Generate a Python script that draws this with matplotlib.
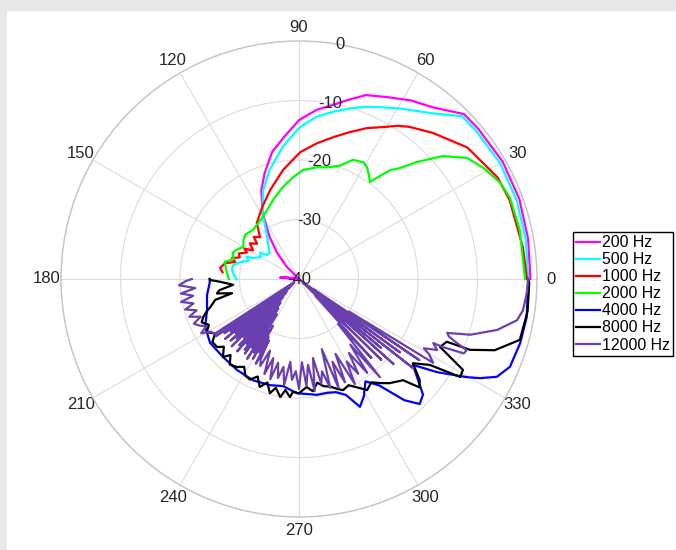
import numpy as np
import matplotlib
matplotlib.use("Agg")
import matplotlib.pyplot as plt
from matplotlib.patches import Rectangle

plt.rcParams['font.family'] = ['Liberation Sans', 'DejaVu Sans']

labels = ['200 Hz', '500 Hz', '1000 Hz', '2000 Hz', '4000 Hz', '8000 Hz', '12000 Hz']
colors = ['#ff00ff', '#00ffff', '#ff0000', '#00ff00', '#0000ff', '#000000', '#6a40b0']

r_ticks = [-40, -30, -20, -10, 0]
theta_ticks = list(range(0, 360, 30))

# 200 Hz
ang_200 = [0, 10, 20, 30, 40, 45, 52, 58, 64, 70, 75, 79, 84, 90, 96, 102, 108, 113, 119, 125, 130, 135, 140, 150, 165, 172, 176, 180]
db_200 = [-1.1, -0.9, -0.6, -0.5, -0.7, -0.8, -3.4, -4.6, -6.0, -7.1, -8.9, -10.2, -11.4, -13.3, -16.0, -18.2, -21.3, -23.8, -27.4, -31.4, -34.3, -37.1, -40, -40, -40, -37.5, -36.8, -40]

# 500 Hz
ang_500 = [0, 10, 20, 30, 40, 45, 51, 59, 64, 69, 73, 78, 84, 90, 97, 105, 112, 119, 123, 127, 133, 138.5, 143, 146, 150, 155.5, 157, 160, 164, 168, 172, 178, 180]
db_500 = [-1.5, -1.3, -1.1, -1.0, -1.2, -1.3, -4.2, -6.6, -7.9, -9.0, -10.0, -11.2, -12.6, -14.6, -17.6, -21.0, -23.9, -27.3, -29.6, -31.1, -32.5, -33.4, -33.3, -32.1, -32.6, -31.5, -30.4, -31.0, -29.7, -28.7, -28.6, -29.2, -29.5]

# 1000 Hz
ang_1000 = [0, 8, 20.5, 27, 38, 47.5, 54, 57, 61, 65.8, 71, 76.5, 82.5, 89.5, 98.4, 108, 117, 124.8, 127, 133, 137, 140, 144, 148, 151, 153, 157, 160, 162.6, 165, 168, 172, 175]
db_1000 = [-1.7, -2.0, -2.2, -2.5, -4.1, -6.7, -8.4, -9.3, -10.8, -12.2, -13.9, -15.5, -17.0, -18.7, -21.5, -24.3, -26.4, -27.9, -28.2, -30.4, -29.6, -30.8, -29.8, -30.9, -29.5, -30.2, -29.0, -29.4, -28.2, -28.9, -27.3, -26.6, -27.1]

# 2000 Hz
ang_2000 = [0, 12.5, 21, 25.5, 31, 35.8, 40.5, 44.8, 47.7, 50, 53.2, 53.8, 56, 58.7, 61, 65.6, 70, 74.5, 81, 88, 93, 100, 108, 120, 133, 140, 145, 150, 155, 158.5, 163, 167, 172, 177, 180]
db_2000 = [-2.0, -2.0, -2.0, -2.5, -3.8, -5.2, -8.2, -12.1, -14.8, -16.1, -19.2, -19.8, -19.0, -18.0, -17.6, -18.0, -19.7, -20.5, -21.0, -21.7, -22.8, -24.3, -26.0, -27.9, -28.7, -28.3, -28.6, -29.2, -28.4, -28.0, -28.5, -27.2, -27.6, -28.0, -28.2]

# 4000 Hz
ang_4000 = [180, 182, 190, 198.6, 207, 215.7, 225.7, 235.7, 245.5, 254.7, 261.5, 269, 278.8, 284, 288, 292, 295.5, 299, 303, 307, 311, 314, 317, 320, 323, 326, 329.7, 331.3, 333.7, 337.4, 343.8, 350.5, 359, 360]
db_4000 = [-25, -25, -24.3, -23.7, -22.3, -21.6, -21.7, -21.5, -21.3, -21.5, -21.8, -20.8, -20.3, -20.3, -20.0, -19.0, -16.2, -17.5, -19.5, -17.6, -13.0, -10.8, -11.5, -14.0, -16.0, -12.0, -7.3, -5.3, -2.9, -1.6, -1.3, -1.2, -1.5, -1.5]

# 8000 Hz
ang_8000 = [180, 180.6, 182, 185, 188, 190, 192, 194, 197.5, 199.5, 201.6, 204, 207, 210, 213, 216, 219.7, 222, 225.7, 228, 231, 234.8, 238, 241, 244, 247, 250, 253, 255.7, 258, 261, 263, 265.6, 267, 270,
            274, 277, 280, 283, 286, 289, 291.6, 295, 298, 301.5, 305, 308, 311, 315.8, 318, 320, 323.5, 326.7, 328.7, 331, 334.3, 337, 337.5, 340, 344.6, 352, 359, 360]
db_8000 = [-25, -25, -26.7, -28.9, -26.5, -26.0, -28.5, -25.5, -24.4, -23.5, -22.7, -22.1, -23.0, -22.1, -23.2, -22.0, -22.1, -23.0, -21.7, -22.8, -21.5, -21.9, -22.6, -21.4, -21.2, -22.2, -20.7, -21.8, -20.2, -21.3, -19.9, -21.2, -20.1, -21.0, -20.8,
           -21.8, -21.0, -22.3, -21.5, -21.2, -20.5, -19.9, -20.3, -19.4, -18.1, -18.8, -17.8, -16.8, -15.6, -12.8, -13.5, -16.2, -13.7, -8.3, -8.5, -13.7, -13.0, -8.9, -5.0, -1.5, -1.2, -1.3, -1.5]

# 12000 Hz
ang_12000 = [180, 181, 183, 185, 187, 189, 191, 193, 195, 197, 199, 201, 203, 205, 207, 209, 211, 213,
             213.8, 214.5, 215.3, 216, 216.8, 217.5, 218.3, 219, 219.8, 220.5, 221.3, 222, 222.8, 223.5, 224.3, 225, 225.8, 226.5, 227.3, 228,
             228.8, 229.5, 230.3, 231, 231.8, 232.5, 233.3, 234, 234.8, 235.5, 236.3, 237, 237.8, 238.5, 239.3, 240, 240.8, 241.5, 242.3, 243, 243.8, 244.5,
             246, 248, 250, 252, 254, 256, 258, 260, 262, 264, 266, 268, 270, 272, 274, 276, 278, 280, 282, 284, 286, 288, 290, 292,
             294, 296, 298, 300, 302, 304, 306, 308, 309.5, 311, 312.5, 314, 315.5, 317, 318, 319, 320, 321, 322, 323, 324, 325, 326, 327, 328,
             330, 331, 332.8, 334.5, 334.7, 335.7, 337, 338, 339, 340, 342, 345.6, 349.3, 352, 354.7, 357, 360]
db_12000 = [-22, -21, -19.8, -22.5, -20, -22, -19.8, -21.8, -20.2, -22, -20.5, -22.3, -20.8, -21.5, -22.5, -21.2, -22.8, -23,
            -39, -23, -38, -24.5, -39, -25.5, -37, -24, -38.5, -26, -36, -24.5, -38, -25.5, -35, -24, -37, -26.5, -34, -25,
            -36, -24, -33, -26, -35, -25, -32, -24.5, -34, -26, -31, -24, -33, -25.5, -30, -24.5, -31, -26, -29, -24, -28.5, -25,
            -24, -27, -23, -26, -22.5, -25.5, -23, -25, -22, -26, -23, -24.5, -21.5, -26, -22, -25.5, -21, -26.5, -22, -24, -21, -27.6, -20.5, -25,
            -21, -26, -20, -24, -21.2, -25, -20.5, -26, -18.6, -30, -22, -36, -20.6, -39, -18.6, -38, -22, -40, -15.6, -38, -19, -37, -15.6, -30, -13.4,
            -14.8, -16, -13.9, -15, -13.2, -9.6, -9.4, -11.5, -13, -13.5, -9.7, -5.6, -2.7, -2, -1.8, -1.6, -1.5]

angles = [ang_200, ang_500, ang_1000, ang_2000, ang_4000, ang_8000, ang_12000]
levels = [db_200, db_500, db_1000, db_2000, db_4000, db_8000, db_12000]

fig = plt.figure(figsize=(6.76, 5.5), dpi=100, facecolor='#e6e7e9')
fig.patches.append(Rectangle((7/676, 0), 1, 539/550, transform=fig.transFigure,
                             facecolor='white', edgecolor='none', zorder=-10))

ax = fig.add_axes([61/676, 33/550, 476/676, 476/550], projection='polar')
ax.set_facecolor('white')

for a, d, c, lab in zip(angles, levels, colors, labels):
    ax.plot(np.deg2rad(a), np.clip(d, -40, 0), color=c, lw=1.6, label=lab)

ax.set_rlim(-40, 0)
ax.set_rticks(r_ticks)
ax.set_yticklabels([])
ax.set_thetagrids(theta_ticks, [str(t) for t in theta_ticks], fontsize=12, color='#262626')
ax.tick_params(axis='x', length=0, pad=3)
ax.grid(color='#dcdcdc', lw=0.8)
ax.spines['polar'].set_color('#c4c4c4')
ax.spines['polar'].set_linewidth(1.0)

for r in r_ticks:
    ax.text(np.deg2rad(80), r, str(r), ha='center', va='center', fontsize=12, color='#262626')

fig.legend(loc='upper left', bbox_to_anchor=(573/676, 1 - 232/550), fontsize=11.4,
           frameon=True, fancybox=False, edgecolor='black', framealpha=1,
           handlelength=1.5, handletextpad=0.1, labelspacing=0.13, borderpad=0.2,
           borderaxespad=0)

fig.savefig('out.png', dpi=100, facecolor=fig.get_facecolor())
